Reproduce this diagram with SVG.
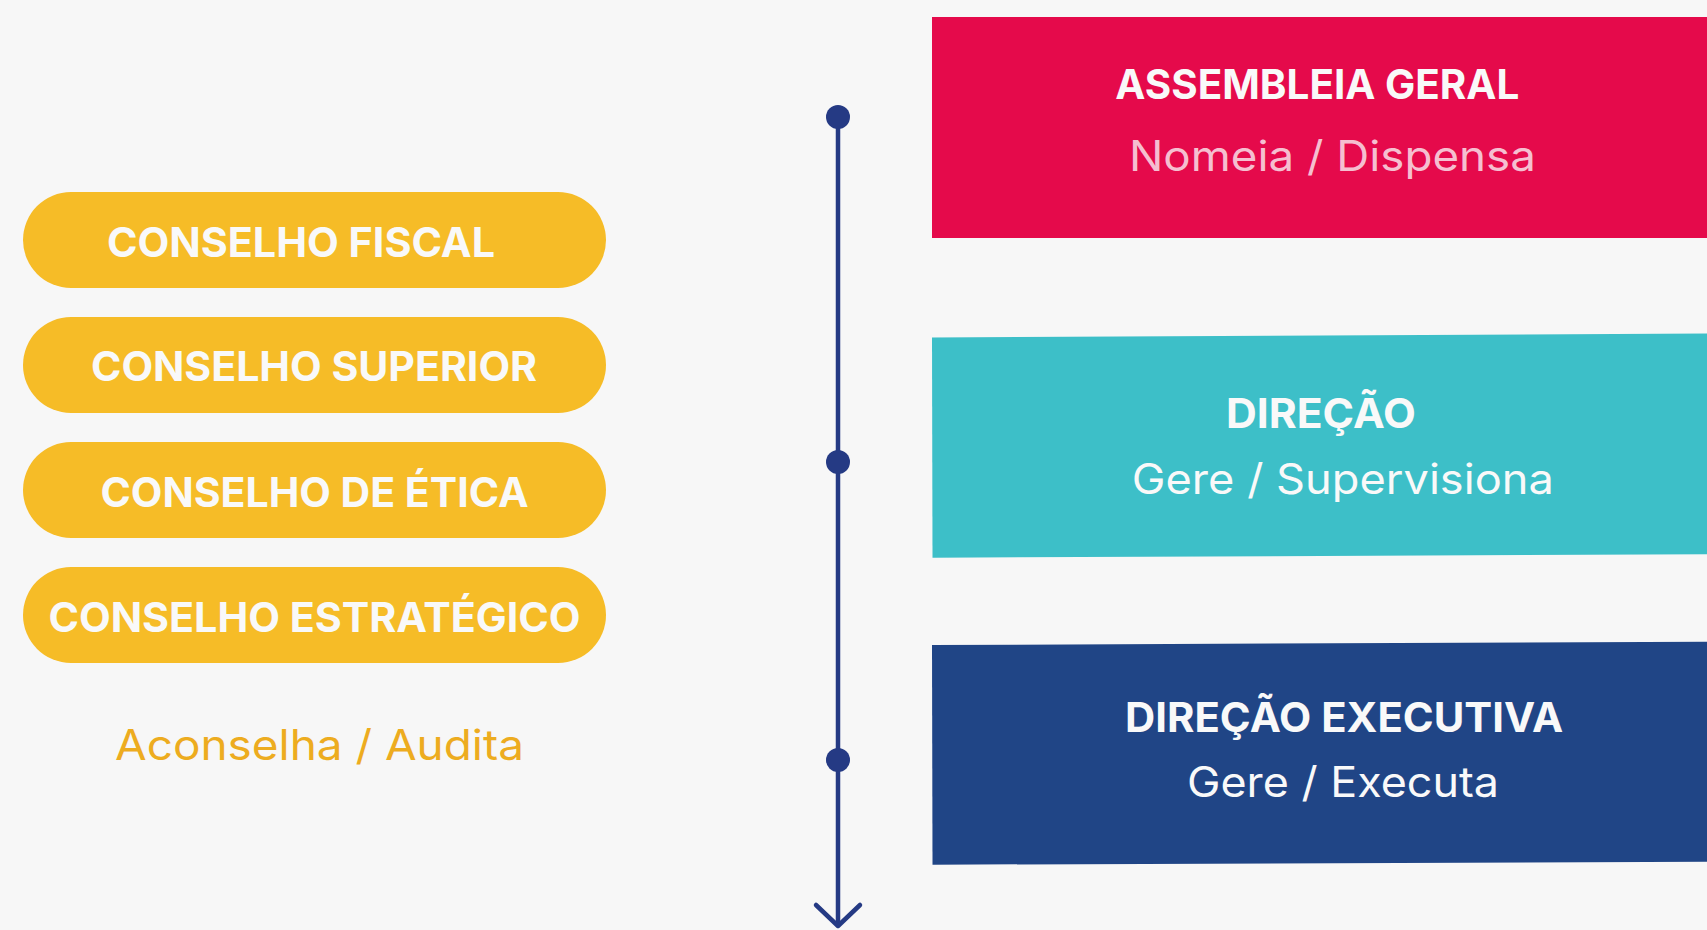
<svg xmlns="http://www.w3.org/2000/svg" width="1707" height="930" viewBox="0 0 1707 930">
  <style>
    .pill { fill: #f6bc27; }
    .pilltxt { font-family: Inter, "Open Sans", sans-serif; font-weight: 700; font-size: 41px; fill: #f9f9f9; text-anchor: middle; }
    .title { font-family: Inter, "Open Sans", sans-serif; font-weight: 700; font-size: 41px; fill: #f9f9f9; text-anchor: middle; }
    .sub { font-family: Inter, "Open Sans", sans-serif; font-weight: 400; font-size: 42px; text-anchor: middle; }
    .dot { fill: #253a84; }
  </style>
  <defs>
    <marker id="chev" markerUnits="userSpaceOnUse" markerWidth="30" markerHeight="50" refX="0" refY="0" orient="auto" overflow="visible">
      <path d="M -21 -22 L 0 0 L -21 22" fill="none" stroke="#253a84" stroke-width="4.5" stroke-linecap="round" stroke-linejoin="round"/>
    </marker>
  </defs>
  <rect x="0" y="0" width="1707" height="930" fill="#f7f7f7"/>

  <g id="conselho-fiscal">
    <rect class="pill" x="23" y="192" width="583" height="96" rx="48"/>
    <text class="pilltxt" x="301" y="257" textLength="388" lengthAdjust="spacingAndGlyphs">CONSELHO FISCAL</text>
  </g>
  <g id="conselho-superior">
    <rect class="pill" x="23" y="317" width="583" height="96" rx="48"/>
    <text class="pilltxt" x="314" y="381" textLength="446" lengthAdjust="spacingAndGlyphs">CONSELHO SUPERIOR</text>
  </g>
  <g id="conselho-etica">
    <rect class="pill" x="23" y="442" width="583" height="96" rx="48"/>
    <text class="pilltxt" x="314.5" y="507" textLength="428" lengthAdjust="spacingAndGlyphs">CONSELHO DE ÉTICA</text>
  </g>
  <g id="conselho-estrategico">
    <rect class="pill" x="23" y="567" width="583" height="96" rx="48"/>
    <text class="pilltxt" x="314.5" y="632" textLength="532" lengthAdjust="spacingAndGlyphs">CONSELHO ESTRATÉGICO</text>
  </g>
  <g id="conselhos-label">
    <text class="sub" x="319.5" y="760" fill="#edac1f" textLength="409" lengthAdjust="spacingAndGlyphs">Aconselha / Audita</text>
  </g>

  <g id="connectors">
    <path d="M 838 117 L 838 926" fill="none" stroke="#253a84" stroke-width="4.5" marker-end="url(#chev)"/>
    <circle class="dot" cx="838" cy="117" r="12"/>
    <circle class="dot" cx="838" cy="462" r="12"/>
    <circle class="dot" cx="838" cy="760" r="12"/>
  </g>

  <g id="assembleia-geral">
    <rect x="932" y="17" width="775" height="221" fill="#e50a4b"/>
    <text class="title" x="1317.3" y="99" textLength="404" lengthAdjust="spacingAndGlyphs">ASSEMBLEIA GERAL</text>
    <text class="sub" x="1332.4" y="170.5" fill="#f5bfd0" textLength="407" lengthAdjust="spacingAndGlyphs">Nomeia / Dispensa</text>
  </g>
  <g id="direcao">
    <polygon points="932,337.5 1707,333.5 1707,554.3 932.5,557.7" fill="#3dbfc8"/>
    <text class="title" x="1320.9" y="428.3" textLength="190" lengthAdjust="spacingAndGlyphs">DIREÇÃO</text>
    <text class="sub" x="1342.8" y="494" fill="#f9f9f9" textLength="422" lengthAdjust="spacingAndGlyphs">Gere / Supervisiona</text>
  </g>
  <g id="direcao-executiva">
    <polygon points="932,645 1707,641.7 1707,861.7 932.5,864.7" fill="#204586"/>
    <text class="title" x="1344.1" y="731.7" textLength="438" lengthAdjust="spacingAndGlyphs">DIREÇÃO EXECUTIVA</text>
    <text class="sub" x="1343" y="796.7" fill="#f9f9f9" textLength="312" lengthAdjust="spacingAndGlyphs">Gere / Executa</text>
  </g>
</svg>
